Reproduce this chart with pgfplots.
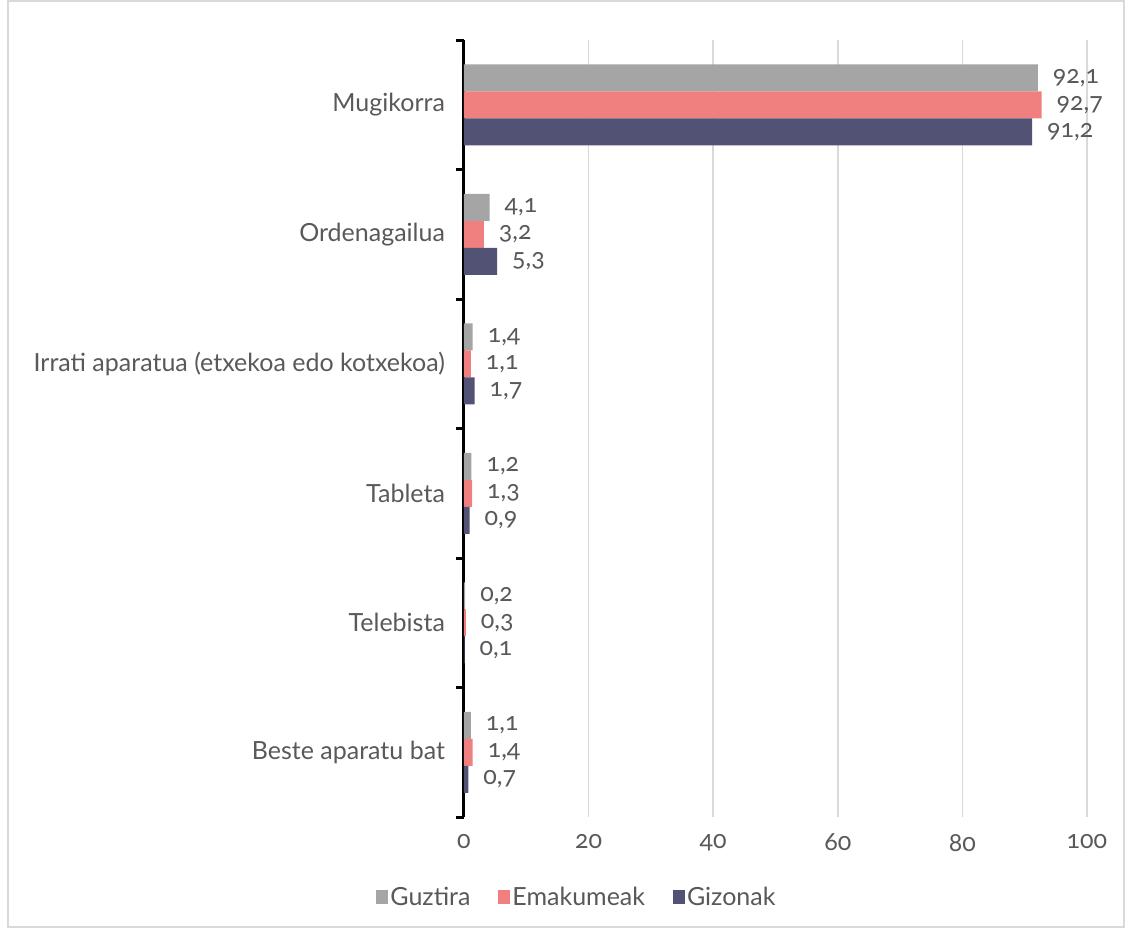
\documentclass[border=0pt]{standalone}
\usepackage{pgfplots}
\pgfplotsset{compat=1.18}
\usepackage{fontspec}
\setmainfont{Lato}[Numbers=OldStyle]
\definecolor{cgray}{HTML}{A5A5A5}
\definecolor{cred}{HTML}{F08080}
\definecolor{cblue}{HTML}{525275}
\definecolor{txt}{HTML}{595959}
\definecolor{gridc}{HTML}{D9D9D9}
\begin{document}
\begin{tikzpicture}
\path[use as bounding box] (-232pt,-55.5pt) rectangle (330.5pt,408.5pt);
\draw[gridc, line width=0.6pt] (-228pt,-55pt) rectangle (330pt,408pt);
\begin{axis}[
  at={(0pt,0pt)}, anchor=south west,
  scale only axis,
  width=311.5pt, height=388.5pt,
  xbar, bar width=13.5pt,
  xmin=0, xmax=100,
  ymin=-0.5, ymax=5.5,
  xtick={0,20,40,60,80,100},
  ytick={0,1,2,3,4,5},
  yticklabels={Beste aparatu bat, Telebista, Tableta, Irrati aparatua (etxekoa edo kotxekoa), Ordenagailua, Mugikorra},
  minor ytick={-0.5,0.5,1.5,2.5,3.5,4.5,5.5},
  major tick length=0pt,
  minor tick length=4pt,
  tick align=outside,
  minor tick style={black, line width=1.5pt},
  xmajorgrids, grid style={gridc, line width=0.75pt},
  axis lines*=left,
  x axis line style={draw=none},
  y axis line style={black, line width=1.5pt},
  /pgf/number format/assume math mode=true,
  ticklabel style={font=\fontsize{12.5}{15}\selectfont, text=txt},
  yticklabel style={xshift=-6pt},
  xticklabel style={yshift=-5pt},
  nodes near coords,
  nodes near coords style={anchor=west, xshift=4pt, font=\fontsize{12.5}{15}\selectfont, text=txt,
    /pgf/number format/.cd, fixed, fixed zerofill, precision=1, use comma, assume math mode=true},
  legend style={draw=none, at={(0.183,-0.08)}, anchor=north, legend columns=-1,
    font=\fontsize{12.5}{15}\selectfont, text=txt,
    /tikz/every even column/.append style={column sep=12pt},
    /tikz/every odd column/.append style={column sep=-1pt}},
  legend image code/.code={\fill[#1] (0pt,-3pt) rectangle (6pt,4pt);},
  clip=false,
]
\addplot[fill=cgray, draw=none, bar shift=13.5pt] coordinates {(92.1,5) (4.1,4) (1.4,3) (1.2,2) (0.2,1) (1.1,0)};
\addplot[fill=cred, draw=none, bar shift=0pt] coordinates {(92.7,5) (3.2,4) (1.1,3) (1.3,2) (0.3,1) (1.4,0)};
\addplot[fill=cblue, draw=none, bar shift=-13.5pt] coordinates {(91.2,5) (5.3,4) (1.7,3) (0.9,2) (0.1,1) (0.7,0)};
\legend{Guztira, Emakumeak, Gizonak}
\end{axis}
\end{tikzpicture}
\end{document}
